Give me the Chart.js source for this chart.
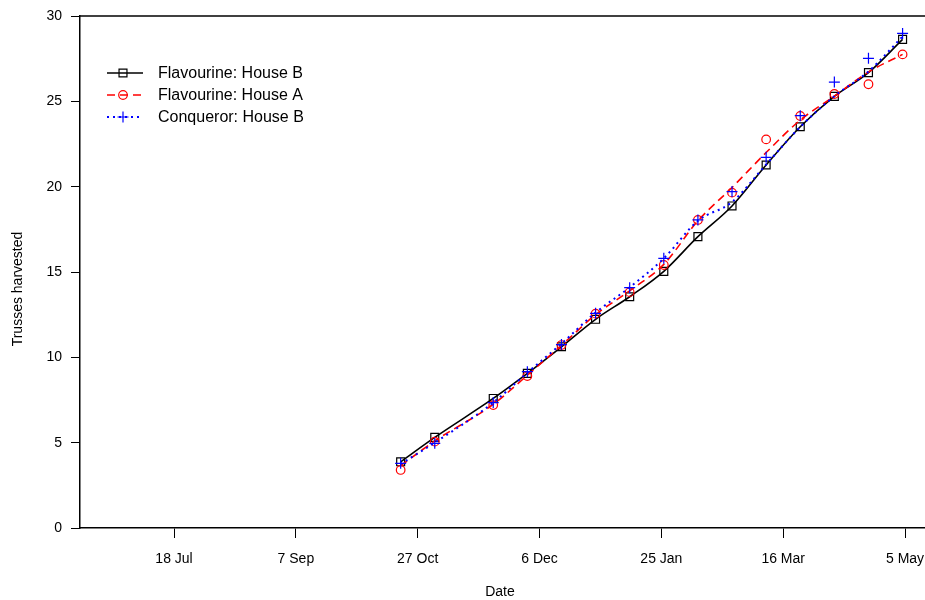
<!DOCTYPE html>
<html>
<head>
<meta charset="utf-8">
<script src="https://cdn.jsdelivr.net/npm/chart.js@4.4.1/dist/chart.umd.min.js"></script>
<style>
  html, body { margin: 0; padding: 0; background: #ffffff; }
  #wrap { width: 925px; height: 600px; }
</style>
</head>
<body>
<div id="wrap"><canvas id="c" width="925" height="600"></canvas></div>
<script>
// Date axis: days counted from 18 Jul, with labelled ticks every 50 days
const tickDays = [0, 50, 100, 150, 200, 250, 300];
const tickLabels = ['18 Jul', '7 Sep', '27 Oct', '6 Dec', '25 Jan', '16 Mar', '5 May'];

// Harvest sampling dates (days from 18 Jul)
const sampleDays = [93, 107, 131, 145, 159, 173, 187, 201, 215, 229, 243, 257, 271, 285, 299];

// Observed cumulative trusses harvested
const flavourineB = [3.88, 5.31, 7.59, 9.06, 10.62, 12.23, 13.55, 15.04, 17.07, 18.87, 21.27, 23.51, 25.29, 26.68, 28.63];
const flavourineA = [3.40, 5.06, 7.20, 8.90, 10.72, 12.56, 13.82, 15.41, 18.05, 19.65, 22.77, 24.14, 25.43, 26.00, 27.75];
const conquerorB  = [3.79, 4.96, 7.35, 9.16, 10.75, 12.58, 14.08, 15.80, 18.05, 19.71, 21.72, 24.16, 26.13, 27.52, 28.98];

// Fitted trend curves at the same dates
const flavourineBFit = [3.88, 5.31, 7.59, 9.06, 10.62, 12.23, 13.55, 15.04, 17.07, 18.87, 21.27, 23.51, 25.29, 26.68, 28.63];
const flavourineAFit = [3.65, 5.10, 7.25, 8.95, 10.70, 12.50, 13.90, 15.45, 18.00, 19.95, 22.00, 23.90, 25.30, 26.72, 27.75];
const conquerorBFit  = [3.75, 5.00, 7.35, 9.10, 10.80, 12.62, 14.10, 15.80, 18.00, 19.10, 21.30, 23.50, 25.30, 26.75, 28.80];

const yTicks = [0, 5, 10, 15, 20, 25, 30];

const seriesNames = ['Flavourine: House B', 'Flavourine: House A', 'Conqueror: House B'];

const pts = (xs, ys) => xs.map((x, i) => ({ x: x, y: ys[i] }));

const styles = [
  { color: '#000000', dash: [], width: 1.6, pointStyle: 'rect', radius: 5.6 },
  { color: '#ff0000', dash: [8, 5], width: 1.6, pointStyle: 'circle', radius: 4.3 },
  { color: '#0000ff', dash: [2, 4], width: 2, pointStyle: 'cross', radius: 5.5 }
];

const obs = [flavourineB, flavourineA, conquerorB];
const fits = [flavourineBFit, flavourineAFit, conquerorBFit];

const datasets = [];
obs.forEach((vals, i) => {
  const s = styles[i];
  datasets.push({
    label: seriesNames[i] + ' (fit)',
    data: pts(sampleDays, fits[i]),
    showLine: true,
    borderColor: s.color,
    borderWidth: s.width,
    borderDash: s.dash,
    pointRadius: 0,
    fill: false,
    cubicInterpolationMode: 'monotone',
    order: 3 - i
  });
  datasets.push({
    label: seriesNames[i],
    data: pts(sampleDays, vals),
    showLine: false,
    pointStyle: s.pointStyle,
    pointRadius: s.radius,
    pointBorderColor: s.color,
    pointBackgroundColor: 'rgba(0,0,0,0)',
    pointBorderWidth: 1.2,
    order: 3 - i
  });
});

const FONT = '"Liberation Sans", Arial, sans-serif';

// Legend, axis titles and top frame line
const decorations = {
  id: 'decorations',
  afterDraw(chart) {
    const ctx = chart.ctx;
    const area = chart.chartArea;
    ctx.save();
    // top frame line
    ctx.strokeStyle = '#000';
    ctx.lineWidth = 1.5;
    ctx.setLineDash([]);
    ctx.beginPath();
    ctx.moveTo(area.left, area.top);
    ctx.lineTo(area.right, area.top);
    ctx.stroke();

    // axis titles
    ctx.fillStyle = '#000';
    ctx.font = '14px ' + FONT;
    ctx.textAlign = 'center';
    ctx.textBaseline = 'middle';
    ctx.fillText('Date', 500, 592);
    ctx.save();
    ctx.translate(18, 289);
    ctx.rotate(-Math.PI / 2);
    ctx.fillText('Trusses harvested', 0, 0);
    ctx.restore();

    // legend
    const rows = [73, 95, 117];
    seriesNames.forEach((name, i) => {
      const s = styles[i];
      const y = rows[i];
      ctx.strokeStyle = s.color;
      ctx.lineWidth = s.width;
      ctx.setLineDash(s.dash);
      ctx.beginPath();
      ctx.moveTo(107, y);
      ctx.lineTo(143, y);
      ctx.stroke();
      ctx.setLineDash([]);
      ctx.fillStyle = 'rgba(255,255,255,0)';
      ctx.lineWidth = 1.2;
      ctx.strokeStyle = s.color;
      Chart.helpers.drawPoint(ctx, {
        pointStyle: s.pointStyle,
        radius: s.radius,
        borderWidth: 1.2,
        rotation: 0
      }, 123, y);
      ctx.fillStyle = '#000';
      ctx.font = '16px ' + FONT;
      ctx.textAlign = 'left';
      ctx.textBaseline = 'middle';
      ctx.fillText(name, 158, y + 1);
    });
    ctx.restore();
  }
};

new Chart(document.getElementById('c'), {
  type: 'scatter',
  data: { datasets: datasets },
  options: {
    responsive: false,
    animation: false,
    devicePixelRatio: 1,
    layout: { autoPadding: false, padding: { top: 16, right: 0, left: 0, bottom: 0 } },
    plugins: { legend: { display: false }, tooltip: { enabled: false } },
    scales: {
      x: {
        type: 'linear',
        min: -38.6,
        max: 308.2,
        afterBuildTicks(scale) { scale.ticks = tickDays.map(v => ({ value: v })); },
        afterFit(scale) {
          scale.height = 72;
          scale.paddingLeft = 0;
          scale.paddingRight = 0;
        },
        ticks: {
          autoSkip: false,
          maxRotation: 0,
          padding: 13,
          color: '#000',
          font: { family: FONT, size: 14 },
          callback(value) {
            const i = tickDays.indexOf(value);
            return i >= 0 ? tickLabels[i] : '';
          }
        },
        grid: { drawOnChartArea: false, drawTicks: true, tickLength: 10, color: '#000', lineWidth: 1 },
        border: { display: true, color: '#000', width: 1.5 }
      },
      y: {
        type: 'linear',
        min: 0,
        max: 30,
        afterBuildTicks(scale) { scale.ticks = yTicks.map(v => ({ value: v })); },
        afterFit(scale) {
          scale.width = 80;
          scale.paddingTop = 0;
          scale.paddingBottom = 0;
        },
        ticks: {
          padding: 9,
          color: '#000',
          font: { family: FONT, size: 14 },
          callback(value) { return String(value); }
        },
        grid: { drawOnChartArea: false, drawTicks: true, tickLength: 9, color: '#000', lineWidth: 1 },
        border: { display: true, color: '#000', width: 1.5 }
      }
    }
  },
  plugins: [decorations]
});
</script>
</body>
</html>
